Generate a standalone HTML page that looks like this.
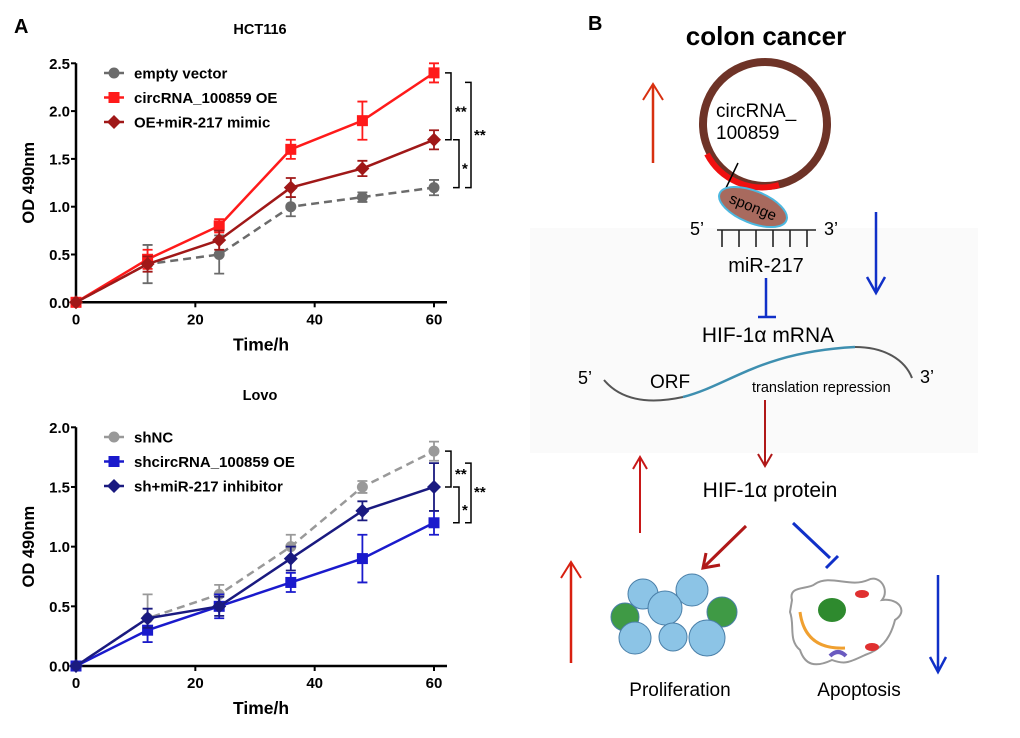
<!DOCTYPE html>
<html><head><meta charset="utf-8"><style>
body{margin:0;background:#fff;}
svg{display:block;font-family:"Liberation Sans",Arial,sans-serif;}
</style></head><body>
<svg id="fig" width="1020" height="738" viewBox="0 0 1020 738">
<rect width="1020" height="738" fill="#fff"/>
<text x="14" y="33" font-size="20" font-weight="bold">A</text>
<g id="chart1"></g>
<g id="chart2"></g>

<!-- Panel B diagram -->
<g>
<rect x="530" y="228" width="448" height="225" fill="#fafafa"/>
<text x="588" y="30" font-size="20" font-weight="bold">B</text>
<text x="766" y="45" font-size="26" font-weight="bold" text-anchor="middle">colon cancer</text>
<circle cx="765" cy="124" r="62" fill="none" stroke="#6e3327" stroke-width="8"/>
<path d="M707,154 A62,62 0 0 0 779,185" fill="none" stroke="#f01010" stroke-width="6"/>
<text x="716" y="117" font-size="19">circRNA_</text>
<text x="716" y="139" font-size="19">100859</text>
<line x1="738" y1="163" x2="726" y2="188" stroke="#000" stroke-width="1.5"/>
<ellipse cx="753" cy="207" rx="36" ry="16" transform="rotate(22 753 207)" fill="#a86a5e" stroke="#4cb8e0" stroke-width="2"/>
<text x="753" y="212" font-size="15" text-anchor="middle" transform="rotate(22 753 207)">sponge</text>
<text x="690" y="235" font-size="18">5’</text>
<text x="824" y="235" font-size="18">3’</text>
<g stroke="#222" stroke-width="1.6">
<line x1="717" y1="230" x2="816" y2="230"/>
<line x1="722" y1="230" x2="722" y2="247"/><line x1="739" y1="230" x2="739" y2="247"/><line x1="756" y1="230" x2="756" y2="247"/><line x1="773" y1="230" x2="773" y2="247"/><line x1="790" y1="230" x2="790" y2="247"/><line x1="807" y1="230" x2="807" y2="247"/>
</g>
<text x="766" y="272" font-size="20" text-anchor="middle">miR-217</text>
<g stroke="#1030c8" stroke-width="2.5"><line x1="766" y1="278" x2="766" y2="317"/><line x1="758" y1="317" x2="776" y2="317"/></g>
<text x="768" y="342" font-size="21" text-anchor="middle">HIF-1α mRNA</text>
<g><line x1="653" y1="163" x2="653" y2="86" stroke="#d83010" stroke-width="2.5"/><path d="M643,100 L653,84 L663,100" fill="none" stroke="#d83010" stroke-width="2"/></g>
<g><line x1="876" y1="212" x2="876" y2="292" stroke="#1030c8" stroke-width="2.5"/><path d="M867,277 L876,293 L885,277" fill="none" stroke="#1030c8" stroke-width="2.5"/></g>
<path d="M604,380 C625,405 660,402 683,397" fill="none" stroke="#555" stroke-width="2"/>
<path d="M683,397 C730,385 760,352 855,347" fill="none" stroke="#3e8fb0" stroke-width="2.5"/>
<path d="M855,347 C885,347 905,360 912,378" fill="none" stroke="#555" stroke-width="2"/>
<text x="578" y="384" font-size="18">5’</text>
<text x="920" y="383" font-size="18">3’</text>
<text x="650" y="388" font-size="19">ORF</text>
<text x="752" y="392" font-size="14.5">translation repression</text>
<g><line x1="765" y1="400" x2="765" y2="465" stroke="#b01818" stroke-width="2"/><path d="M758,454 L765,466 L772,454" fill="none" stroke="#b01818" stroke-width="2"/></g>
<text x="770" y="497" font-size="21" text-anchor="middle">HIF-1α protein</text>
<g><line x1="640" y1="533" x2="640" y2="459" stroke="#c81818" stroke-width="2"/><path d="M633,469 L640,457 L647,469" fill="none" stroke="#c81818" stroke-width="2"/></g>
<g><line x1="571" y1="663" x2="571" y2="564" stroke="#d82010" stroke-width="2.5"/><path d="M561,578 L571,562 L581,578" fill="none" stroke="#d82010" stroke-width="2"/></g>
<g><line x1="746" y1="526" x2="704" y2="567" stroke="#b01818" stroke-width="3"/><path d="M706,553 L703,568 L720,565" fill="none" stroke="#b01818" stroke-width="3"/></g>
<g stroke="#1030c8" stroke-width="3"><line x1="793" y1="523" x2="830" y2="558"/><line x1="826" y1="568" x2="838" y2="556"/></g>
<g><line x1="938" y1="575" x2="938" y2="671" stroke="#1030c8" stroke-width="2.5"/><path d="M930,657 L938,672 L946,657" fill="none" stroke="#1030c8" stroke-width="2.5"/></g>
<g stroke="#4a7fa8" stroke-width="1">
<circle cx="625" cy="617" r="14" fill="#3f9a45"/><circle cx="722" cy="612" r="15" fill="#3f9a45"/>
<circle cx="643" cy="594" r="15" fill="#8cc4e6"/><circle cx="692" cy="590" r="16" fill="#8cc4e6"/>
<circle cx="665" cy="608" r="17" fill="#8cc4e6"/><circle cx="635" cy="638" r="16" fill="#8cc4e6"/>
<circle cx="673" cy="637" r="14" fill="#8cc4e6"/><circle cx="707" cy="638" r="18" fill="#8cc4e6"/>
</g>
<g>
<path d="M792,600 C788,585 808,590 815,584 C830,574 850,588 868,580 C880,574 890,590 882,600 C900,598 908,612 895,620 C890,640 880,650 865,655 C850,662 845,665 832,660 C815,668 805,665 800,650 C788,640 795,625 790,612 Z" fill="#fff" stroke="#999" stroke-width="2"/>
<ellipse cx="832" cy="610" rx="14" ry="12" fill="#2e8a2e"/>
<path d="M800,612 Q805,650 845,648" fill="none" stroke="#f0a030" stroke-width="3"/>
<ellipse cx="862" cy="594" rx="7" ry="4" fill="#e03030"/><ellipse cx="872" cy="647" rx="7" ry="4" fill="#e03030"/>
<path d="M830,656 q8,-8 16,0" fill="none" stroke="#6a5ac0" stroke-width="4"/>
</g>
<text x="680" y="696" font-size="19" text-anchor="middle">Proliferation</text>
<text x="859" y="696" font-size="19" text-anchor="middle">Apoptosis</text>
</g>
</svg>
<script>
const timePoints = [0, 12, 24, 36, 48, 60];
const xTicks = [0, 20, 40, 60];
const hctTicks = [0.0, 0.5, 1.0, 1.5, 2.0, 2.5];
const lovoTicks = [0.0, 0.5, 1.0, 1.5, 2.0];
const hctNames = ["empty vector", "circRNA_100859 OE", "OE+miR-217 mimic"];
const hctEmpty = [0, 0.4, 0.5, 1.0, 1.1, 1.2];
const hctEmptyErr = [0, 0.2, 0.2, 0.1, 0.05, 0.08];
const hctOE = [0, 0.45, 0.8, 1.6, 1.9, 2.4];
const hctOEErr = [0, 0.1, 0.07, 0.1, 0.2, 0.1];
const hctMimic = [0, 0.4, 0.65, 1.2, 1.4, 1.7];
const hctMimicErr = [0, 0.08, 0.1, 0.1, 0.08, 0.1];
const lovoNames = ["shNC", "shcircRNA_100859 OE", "sh+miR-217 inhibitor"];
const lovoNC = [0, 0.4, 0.6, 1.0, 1.5, 1.8];
const lovoNCErr = [0, 0.2, 0.08, 0.1, 0.05, 0.08];
const lovoSh = [0, 0.3, 0.5, 0.7, 0.9, 1.2];
const lovoShErr = [0, 0.1, 0.1, 0.08, 0.2, 0.1];
const lovoInh = [0, 0.4, 0.5, 0.9, 1.3, 1.5];
const lovoInhErr = [0, 0.08, 0.08, 0.1, 0.08, 0.2];

const NS = "http://www.w3.org/2000/svg";
function mk(parent, tag, attrs, txt) {
  const e = document.createElementNS(NS, tag);
  for (const k in attrs) e.setAttribute(k, attrs[k]);
  if (txt !== undefined) e.textContent = txt;
  parent.appendChild(e);
  return e;
}
function marker(g, shape, cx, cy, color) {
  let m;
  if (shape === "circle") m = mk(g, "circle", {cx: cx, cy: cy, r: 5.5, fill: color});
  else if (shape === "square") m = mk(g, "rect", {x: cx - 5.5, y: cy - 5.5, width: 11, height: 11, fill: color});
  else m = mk(g, "path", {d: `M${cx},${cy-7} L${cx+7},${cy} L${cx},${cy+7} L${cx-7},${cy} Z`, fill: color});
  return m;
}
function drawChart(gid, cfg) {
  const g = document.getElementById(gid);
  const x0 = 76, x1 = 434, xmax = 60;
  const xs = v => x0 + (v / xmax) * (x1 - x0);
  const ys = v => cfg.yb - (v / cfg.ymax) * (cfg.yb - cfg.yt);
  const t = mk(g, "text", {x: 260, y: cfg.titleY, "font-size": 14.5, "font-weight": "bold", "text-anchor": "middle"}, cfg.title);
  
  
  const ax = mk(g, "path", {d: `M${x0},${cfg.yt} L${x0},${cfg.yb} L447,${cfg.yb}`, fill: "none", stroke: "#000", "stroke-width": 2.5});
  
  
  cfg.yticks.forEach(v => {
    mk(g, "line", {x1: x0 - 5, x2: x0, y1: ys(v), y2: ys(v), stroke: "#000", "stroke-width": 2});
    const l = mk(g, "text", {x: x0 - 6, y: ys(v) + 5.5, "font-size": 15, "font-weight": "bold", "text-anchor": "end"}, v.toFixed(1));
    
    
  });
  xTicks.forEach(v => {
    mk(g, "line", {x1: xs(v), x2: xs(v), y1: cfg.yb, y2: cfg.yb + 5, stroke: "#000", "stroke-width": 2});
    const l = mk(g, "text", {x: xs(v), y: cfg.yb + 22, "font-size": 15, "font-weight": "bold", "text-anchor": "middle"}, String(v));
    
    
  });
  const xt = mk(g, "text", {x: 261, y: cfg.yb + 48, "font-size": 17.5, "font-weight": "bold", "text-anchor": "middle"}, "Time/h");
  
  
  const cy = (cfg.yt + cfg.yb) / 2;
  const yt = mk(g, "text", {x: 34, y: cy, "font-size": 16.5, "font-weight": "bold", "text-anchor": "middle", transform: `rotate(-90 34 ${cy})`}, "OD 490nm");
  
  
  cfg.series.forEach((s, si) => {
    const sg = mk(g, "g", {});
    
    
    const pts = timePoints.map((tp, i) => `${xs(tp)},${ys(s.vals[i])}`).join(" ");
    mk(sg, "polyline", {points: pts, fill: "none", stroke: s.color, "stroke-width": 2.5, "stroke-dasharray": s.dash ? "8,5" : "none"});
    timePoints.forEach((tp, i) => {
      const e = s.err[i];
      if (e > 0) {
        const px = xs(tp);
        mk(sg, "path", {d: `M${px},${ys(s.vals[i]+e)} L${px},${ys(s.vals[i]-e)} M${px-5},${ys(s.vals[i]+e)} L${px+5},${ys(s.vals[i]+e)} M${px-5},${ys(s.vals[i]-e)} L${px+5},${ys(s.vals[i]-e)}`, stroke: s.color, "stroke-width": 1.8, fill: "none"});
      }
      const m = marker(sg, s.shape, xs(tp), ys(s.vals[i]), s.color);
      
      
    });
    const ly = cfg.legY + si * 24.5;
    const lg = mk(g, "g", {});
    
    
    mk(lg, "line", {x1: 104, x2: 124, y1: ly, y2: ly, stroke: s.color, "stroke-width": 2.5});
    marker(lg, s.shape, 114, ly, s.color);
    mk(lg, "text", {x: 134, y: ly + 5.5, "font-size": 15, "font-weight": "bold"}, s.name);
  });
  const br = mk(g, "g", {stroke: "#000", "stroke-width": 1.5, fill: "none"});
  
  
  const b = cfg.br;
  mk(br, "path", {d: `M445,${ys(b[0])} L451,${ys(b[0])} L451,${ys(b[1])} L445,${ys(b[1])}`});
  mk(br, "path", {d: `M453,${ys(b[1])} L459,${ys(b[1])} L459,${ys(b[2])} L453,${ys(b[2])}`});
  mk(br, "path", {d: `M465,${ys(b[0]-0.1)} L471,${ys(b[0]-0.1)} L471,${ys(b[2])} L465,${ys(b[2])}`});
  mk(g, "text", {x: 455, y: (ys(b[0])+ys(b[1]))/2 + 10, "font-size": 15, "font-weight": "bold"}, "**");
  mk(g, "text", {x: 462, y: (ys(b[1])+ys(b[2]))/2 + 10, "font-size": 15, "font-weight": "bold"}, "*");
  mk(g, "text", {x: 474, y: (ys(b[0])+ys(b[2]))/2 + 10, "font-size": 15, "font-weight": "bold"}, "**");
}
drawChart("chart1", {
  title: "HCT116", titleY: 34, yt: 63.3, yb: 302.3, ymax: 2.5, yticks: hctTicks, legY: 73,
  br: [2.4, 1.7, 1.2],
  series: [
    {name: hctNames[0], vals: hctEmpty, err: hctEmptyErr, color: "#6b6b6b", shape: "circle", dash: true},
    {name: hctNames[1], vals: hctOE, err: hctOEErr, color: "#ff1a1a", shape: "square"},
    {name: hctNames[2], vals: hctMimic, err: hctMimicErr, color: "#a01818", shape: "diamond"}
  ]
});
drawChart("chart2", {
  title: "Lovo", titleY: 400, yt: 427.3, yb: 666, ymax: 2.0, yticks: lovoTicks, legY: 437,
  br: [1.8, 1.5, 1.2],
  series: [
    {name: lovoNames[0], vals: lovoNC, err: lovoNCErr, color: "#999999", shape: "circle", dash: true},
    {name: lovoNames[1], vals: lovoSh, err: lovoShErr, color: "#1a1acc", shape: "square"},
    {name: lovoNames[2], vals: lovoInh, err: lovoInhErr, color: "#1a1a80", shape: "diamond"}
  ]
});
</script>
</body></html>
